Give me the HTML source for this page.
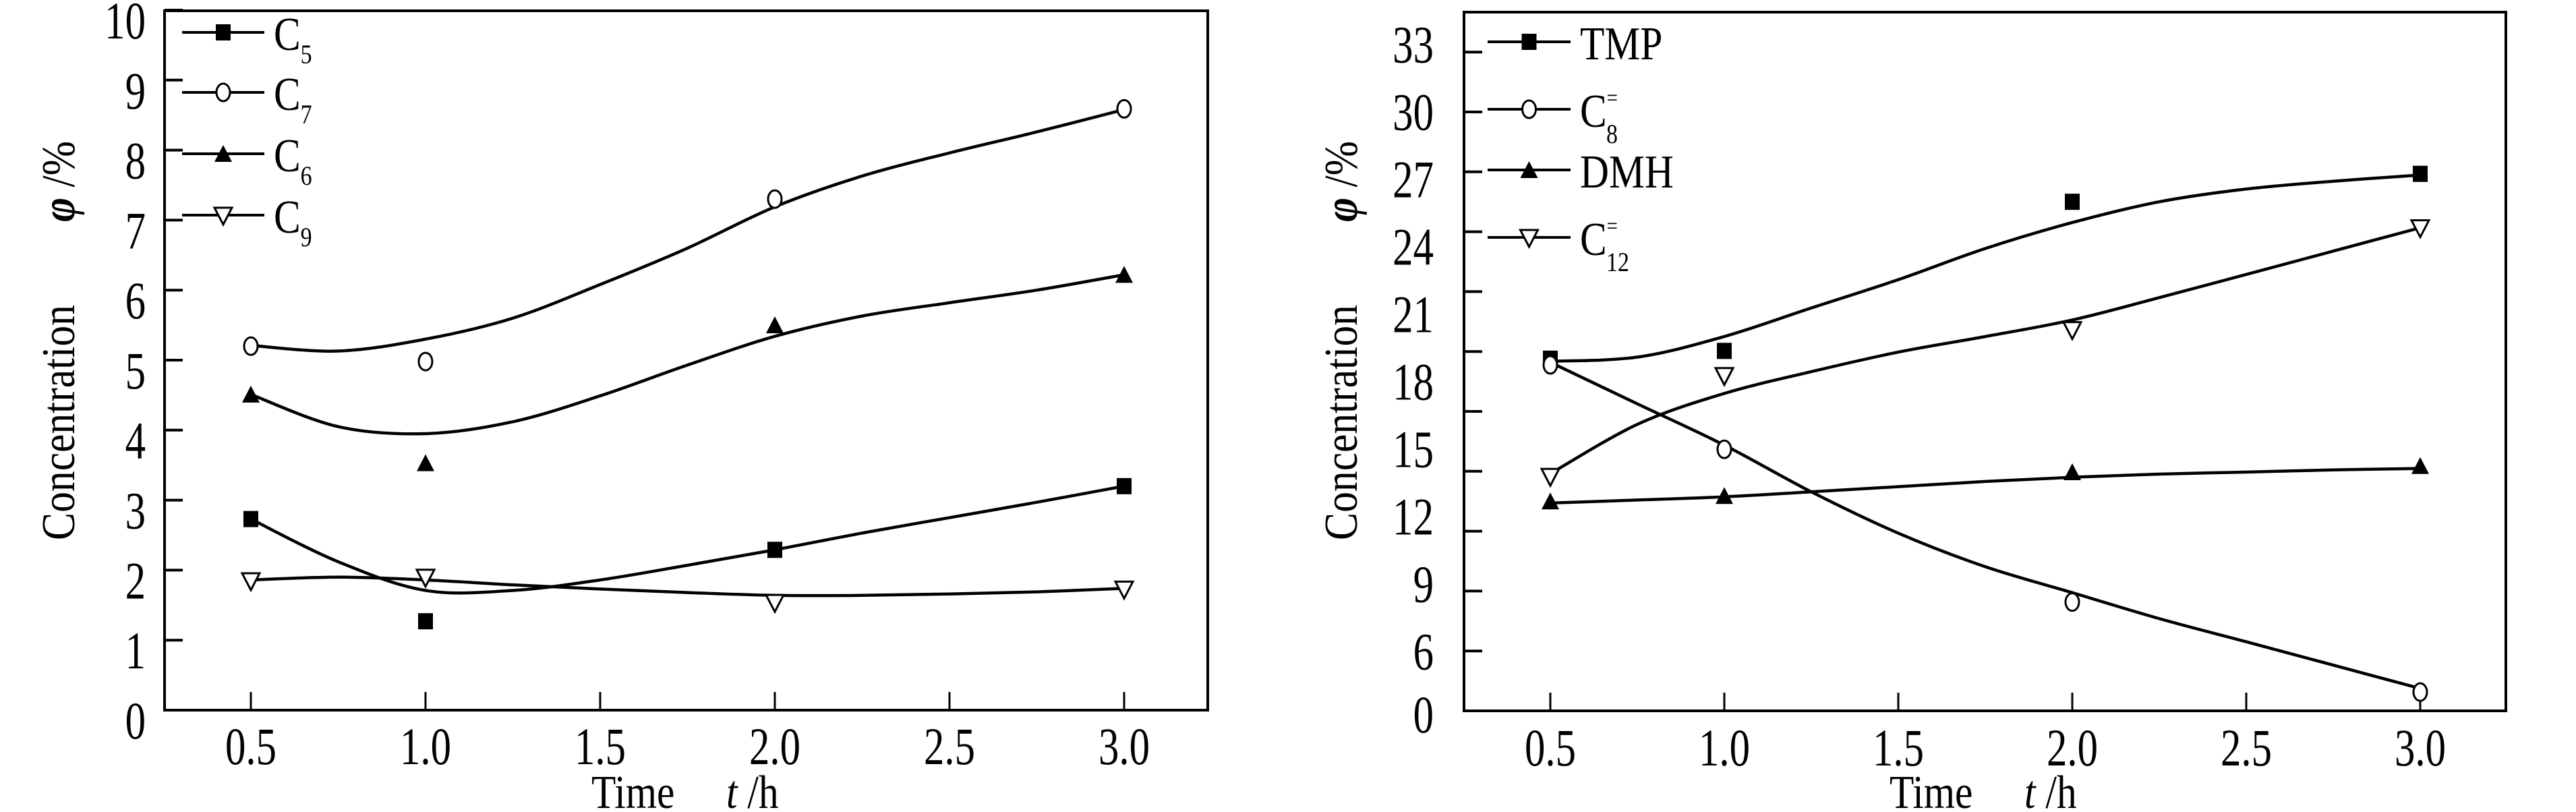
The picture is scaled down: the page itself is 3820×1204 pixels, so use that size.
<!DOCTYPE html>
<html><head><meta charset="utf-8"><style>
html,body{margin:0;padding:0;background:#fff;}
svg{display:block;font-family:"Liberation Serif",serif;}
</style></head><body>
<svg id="fig" xmlns="http://www.w3.org/2000/svg" width="3820" height="1204" viewBox="0 0 3820 1204">
<rect x="0" y="0" width="3820" height="1204" fill="#fff"/>
</svg>
<script>
// ---------- data ----------
const times = [0.5, 1.0, 2.0, 3.0];
const curveTimes = [0.5,0.75,1.0,1.25,1.5,1.75,2.0,2.25,2.5,2.75,3.0];
const xTicks = [0.5,1.0,1.5,2.0,2.5,3.0];
const xTickLabels = ["0.5","1.0","1.5","2.0","2.5","3.0"];
// left chart
const leftYTicks = [0,1,2,3,4,5,6,7,8,9,10];
const c5Pts = [2.73, 1.27, 2.29, 3.2];
const c7Pts = [5.2, 4.98, 7.3, 8.59];
const c6Pts = [4.51, 3.53, 5.5, 6.22];
const c9Pts = [1.85, 1.9, 1.54, 1.73];
const c5Fit = [2.73,2.12,1.71,1.71,1.86,2.07,2.29,2.53,2.75,2.97,3.2];
const c7Fit = [5.21,5.13,5.30,5.60,6.08,6.6,7.19,7.63,7.96,8.26,8.58];
const c6Fit = [4.51,4.05,3.95,4.12,4.49,4.93,5.34,5.63,5.82,6.0,6.22];
const c9Fit = [1.86,1.90,1.86,1.79,1.73,1.68,1.64,1.64,1.66,1.69,1.74];
// right chart
const rightYTicks = [0,3,6,9,12,15,18,21,24,27,30,33];
const rightYLabels = [0,6,9,12,15,18,21,24,27,30,33];
const tmpPts = [17.64, 18.03, 25.5, 26.9];
const c8Pts = [17.33, 13.1, 5.45, 0.94];
const dmhPts = [10.5, 10.77, 11.96, 12.27];
const c12Pts = [11.75, 16.8, 19.1, 24.2];
const tmpFit = [17.51,17.72,18.75,20.18,21.6,23.16,24.46,25.5,26.14,26.53,26.84];
const c8Fit = [17.46,15.38,13.31,10.97,8.9,7.22,5.92,4.62,3.46,2.29,1.12];
const dmhFit = [10.41,10.56,10.72,10.97,11.23,11.49,11.7,11.86,11.96,12.07,12.14];
const c12Fit = [11.88,14.35,15.9,16.99,17.97,18.75,19.58,20.7,21.86,23.03,24.2];

// ---------- helpers ----------
const NS = "http://www.w3.org/2000/svg";
const svg = document.getElementById("fig");
function mk(tag, attrs, parent){
  const e = document.createElementNS(NS, tag);
  for (const k in attrs) e.setAttribute(k, attrs[k]);
  (parent||svg).appendChild(e);
  return e;
}
function smoothPath(pts){
  let d = "M" + pts[0][0] + "," + pts[0][1];
  for (let i=0;i<pts.length-1;i++){
    const p0 = pts[Math.max(0,i-1)], p1 = pts[i], p2 = pts[i+1], p3 = pts[Math.min(pts.length-1,i+2)];
    const c1x = p1[0]+(p2[0]-p0[0])/6, c1y = p1[1]+(p2[1]-p0[1])/6;
    const c2x = p2[0]-(p3[0]-p1[0])/6, c2y = p2[1]-(p3[1]-p1[1])/6;
    d += " C"+c1x+","+c1y+" "+c2x+","+c2y+" "+p2[0]+","+p2[1];
  }
  return d;
}
function marker(g, type, cx, cy){
  let e;
  if (type === "square") e = mk("rect", {x:cx-11, y:cy-12, width:22, height:24, fill:"#000"}, g);
  else if (type === "circle") e = mk("ellipse", {cx:cx, cy:cy, rx:10, ry:13, fill:"#fff", stroke:"#000", "stroke-width":3}, g);
  else if (type === "tri") e = mk("polygon", {points:(cx-13)+","+(cy+12)+" "+(cx+13)+","+(cy+12)+" "+cx+","+(cy-13), fill:"#000"}, g);
  else e = mk("polygon", {points:(cx-13)+","+(cy-11)+" "+(cx+13)+","+(cy-11)+" "+cx+","+(cy+14), fill:"#fff", stroke:"#000", "stroke-width":3}, g);
  return e;
}
// condensed text: placed at (x,y) then compressed horizontally
function ctext(parent, x, y, size, anchor, sx){
  return mk("text", {x:0, y:0, "font-size":size, "text-anchor":anchor, transform:"translate("+x+","+y+") scale("+sx+",1)"}, parent);
}

function buildChart(cfg){
  const g = mk("g", {});
  
  
  const X = t => cfg.x0 + (t-0.5)*cfg.xStep*2;
  const Y = v => cfg.bottom - v*cfg.yUnit;
  const frame = mk("rect", {x:cfg.left, y:cfg.top, width:cfg.right-cfg.left, height:cfg.bottom-cfg.top, fill:"none", stroke:"#000", "stroke-width":4}, g);
  
  
  xTicks.forEach((t,i)=>{
    const tk = mk("line", {x1:X(t), x2:X(t), y1:cfg.bottom, y2:cfg.bottom-27, stroke:"#000", "stroke-width":3}, g);
    
    
    const lb = ctext(g, X(t), cfg.xLabelY, 78, "middle", 0.78);
    lb.textContent = xTickLabels[i];
    
    
  });
  cfg.yTicks.forEach(v=>{
    const tk = mk("line", {x1:cfg.left, x2:cfg.left+27, y1:Y(v), y2:Y(v), stroke:"#000", "stroke-width":4}, g);
    
    
  });
  cfg.yLabels.forEach(v=>{
    const lb = ctext(g, cfg.labelRight, cfg.labelY(v, Y)+27, 78, "end", 0.78);
    lb.textContent = String(v);
    
    
  });
  const yt = mk("text", {x:0, y:0, "font-size":70, "text-anchor":"middle", transform:"translate("+(cfg.yTitleX+24)+","+cfg.yTitleY+") rotate(-90) scale(0.88,1)"}, g);
  
  
  const s1 = mk("tspan", {}, yt); s1.textContent = "Concentration";
  const s2 = mk("tspan", {dx:140, "font-style":"italic", "font-weight":"bold"}, yt); s2.textContent = "φ";
  const s3 = mk("tspan", {}, yt); s3.textContent = " /%";
  const xt = ctext(g, cfg.xTitleX, 1198, 70, "start", 0.85);
  
  
  const a1 = mk("tspan", {}, xt); a1.textContent = "Time";
  const a2 = mk("tspan", {dx:90, "font-style":"italic"}, xt); a2.textContent = "t";
  const a3 = mk("tspan", {}, xt); a3.textContent = " /h";
  cfg.series.forEach(s=>{
    const sg = mk("g", {}, g);
    
    
    const pts = curveTimes.map((t,i)=>[X(t), Y(s.fit[i])]);
    const p = mk("path", {d:smoothPath(pts), fill:"none", stroke:"#000", "stroke-width":4.5}, sg);
    
    
    times.forEach((t,i)=>{
      const m = marker(sg, s.type, X(t), Y(s.pts[i]));
      
      
    });
  });
  const lg = mk("g", {}, g);
  
  
  cfg.series.forEach((s,i)=>{
    const ry = cfg.legendRows[i];
    const eg = mk("g", {}, lg);
    
    
    mk("line", {x1:cfg.legX1, x2:cfg.legX2, y1:ry, y2:ry, stroke:"#000", "stroke-width":4}, eg);
    marker(eg, s.type, (cfg.legX1+cfg.legX2)/2, ry);
    const tx = ctext(eg, cfg.legX2+14, ry+26, 70, "start", 0.85);
    if (s.label === "TMP" || s.label === "DMH") { tx.textContent = s.label; }
    else {
      const c = mk("tspan", {}, tx); c.textContent = "C";
      if (s.sup) { const sp = mk("tspan", {dy:-32, "font-size":34}, tx); sp.textContent = "="; const sb = mk("tspan", {dx:-20, dy:56, "font-size":40}, tx); sb.textContent = s.sub; }
      else { const sb = mk("tspan", {dy:20, "font-size":40}, tx); sb.textContent = s.sub; }
    }
  });
}

buildChart({
  name:"left-chart", left:244, right:1791, top:16, bottom:1053, x0:372, xStep:259, yUnit:103.8,
  xLabelY:1133, yTicks:leftYTicks, yLabels:leftYTicks, labelRight:216,
  labelY:(v,Y)=>Y(v)+15,
  yTitleX:86, yTitleY:505, xTitleX:877,
  legendRows:[48,137,228,319], legX1:270, legX2:392,
  series:[
    {key:"c5", label:"C5", sub:"5", type:"square", pts:c5Pts, fit:c5Fit},
    {key:"c7", label:"C7", sub:"7", type:"circle", pts:c7Pts, fit:c7Fit},
    {key:"c6", label:"C6", sub:"6", type:"tri", pts:c6Pts, fit:c6Fit},
    {key:"c9", label:"C9", sub:"9", type:"dtri", pts:c9Pts, fit:c9Fit}
  ]
});
buildChart({
  name:"right-chart", left:2171, right:3716, top:18, bottom:1054, x0:2299, xStep:258, yUnit:29.6,
  xLabelY:1135, yTicks:rightYTicks, yLabels:rightYLabels, labelRight:2126,
  labelY:(v,Y)=> v===0 ? 1059 : 965.7-(v-6)*33.34,
  yTitleX:1988, yTitleY:505, xTitleX:2802,
  legendRows:[62,162,252,352], legX1:2206, legX2:2329,
  series:[
    {key:"tmp", label:"TMP", type:"square", pts:tmpPts, fit:tmpFit},
    {key:"c8-olefin", label:"C8=", sub:"8", sup:true, type:"circle", pts:c8Pts, fit:c8Fit},
    {key:"dmh", label:"DMH", type:"tri", pts:dmhPts, fit:dmhFit},
    {key:"c12-olefin", label:"C12=", sub:"12", sup:true, type:"dtri", pts:c12Pts, fit:c12Fit}
  ]
});
</script>
</body></html>
